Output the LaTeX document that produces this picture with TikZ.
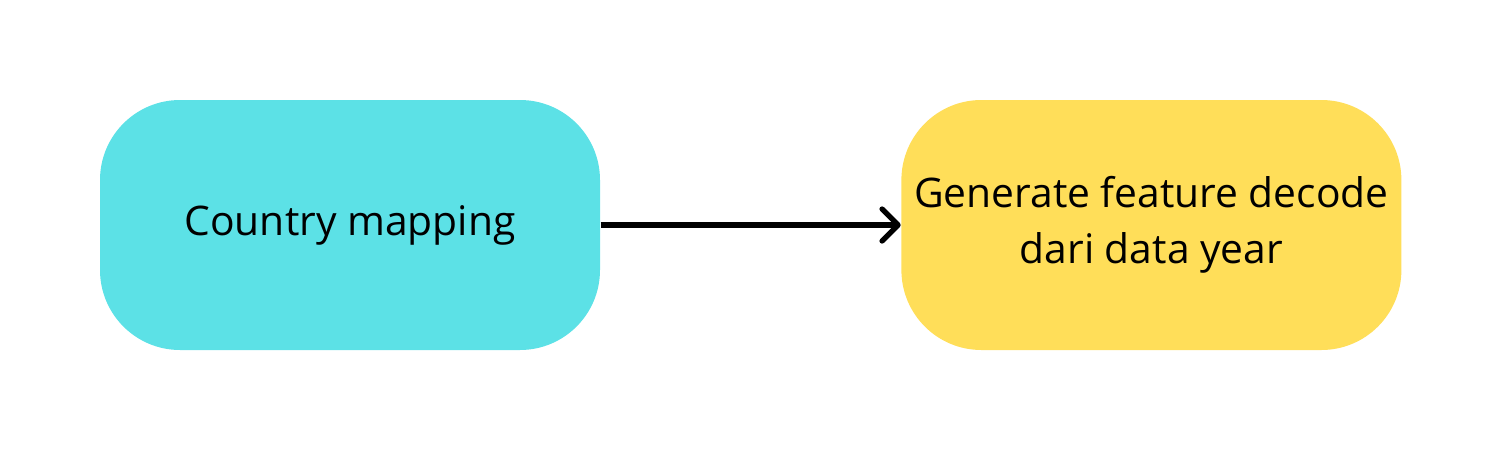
\documentclass[tikz,border=0pt]{standalone}
\usepackage{fontspec}
\setmainfont{Open Sans}
\usetikzlibrary{positioning,arrows.meta}

\tikzset{
  stepbox/.style={rounded corners=0.8cm, minimum width=5cm, minimum height=2.5cm,
    align=center, font=\fontsize{11.6}{15.8}\selectfont, inner sep=0pt},
}
\definecolor{cyanbox}{HTML}{5CE1E6}
\definecolor{yellowbox}{HTML}{FFDE59}

\begin{document}
\begin{tikzpicture}
	\useasboundingbox (0,0) rectangle (15,-4.5);
	\node[stepbox, fill=cyanbox] (mapping) at (3.5,-2.25) {Country mapping};
	\node[stepbox, fill=yellowbox, right=3cm of mapping] (decode) {Generate feature decode\\dari data year};
	\draw[line width=1.5pt, -{Straight Barb[round, length=1.6mm, width=3.2mm]}] (mapping) -- (decode);
\end{tikzpicture}
\end{document}
